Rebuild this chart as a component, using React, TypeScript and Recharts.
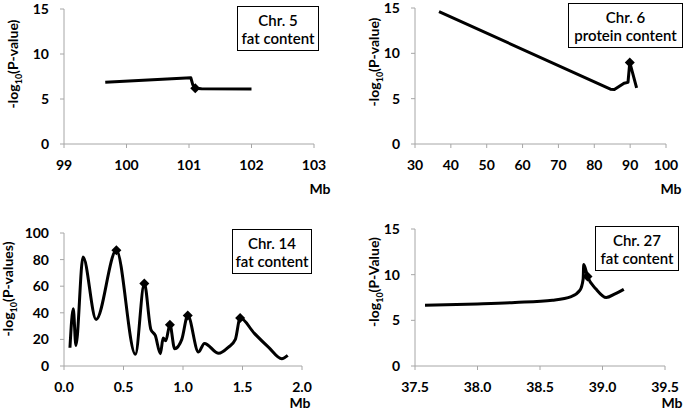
import React from 'react';
import { ComposedChart, Line, Scatter, XAxis, YAxis, ZAxis } from 'recharts';

// values (position in Mb, -log10 P)
const chr5X = [99.66, 101.03, 101.06, 101.1, 101.2, 102.0];
const chr5Y = [6.85, 7.35, 6.6, 6.2, 6.15, 6.1];
const chr5PeakX = [101.1];
const chr5PeakY = [6.2];

const chr6X = [36.7, 84.5, 85.6, 88.3, 89.4, 89.9, 91.8];
const chr6Y = [14.6, 6.05, 6.0, 6.7, 6.8, 9.0, 6.2];
const chr6PeakX = [89.9];
const chr6PeakY = [9.0];

const chr14X = [0.05, 0.078, 0.1, 0.16, 0.27, 0.44, 0.6, 0.675, 0.73, 0.767, 0.81, 0.833, 0.855, 0.89, 0.93, 0.99, 1.04, 1.13, 1.18, 1.3, 1.38, 1.44, 1.48, 1.6, 1.72, 1.83, 1.88];
const chr14Y = [13.75, 43, 15.5, 82, 35, 87, 8.75, 62, 27.5, 23, 9.25, 21, 19, 31, 13, 20, 38, 10.5, 17, 9.5, 14, 20, 36, 24.5, 14, 5.5, 8];
const chr14PeakX = [0.44, 0.675, 0.89, 1.04, 1.48];
const chr14PeakY = [87, 62, 31, 38, 36];

const chr27X = [37.58, 38.0, 38.3, 38.6, 38.75, 38.82, 38.845, 38.85, 38.88, 38.95, 39.03, 39.1, 39.17];
const chr27Y = [6.65, 6.8, 6.95, 7.2, 7.6, 8.3, 9.5, 11.1, 9.8, 8.4, 7.5, 7.9, 8.4];
const chr27PeakX = [38.88];
const chr27PeakY = [9.8];

const zip = (xs: number[], ys: number[]) => xs.map((x, i) => ({ x, y: ys[i] }));

const W = 685;
const H = 412;
const FONT = 'Lato, "Open Sans", sans-serif';
const AXIS = '#a6a6a6';

const panels = [
  {
    key: 'c5', line: zip(chr5X, chr5Y), peaks: zip(chr5PeakX, chr5PeakY), curve: 'linear',
    xDomain: [99, 103], xTicks: [99, 100, 101, 102, 103], fixed: 0,
    yDomain: [0, 15], yTicks: [0, 5, 10, 15],
    plot: { x0: 64, x1: 314, y0: 9, y1: 144 },
    yLabel: '(P-value)', yLab: { x: 18, y: 64 }, mb: { x: 320, y: 194 },
    box: { left: 237, top: 6, width: 82, height: 45 }, title: ['Chr. 5', 'fat content'],
  },
  {
    key: 'c6', line: zip(chr6X, chr6Y), peaks: zip(chr6PeakX, chr6PeakY), curve: 'linear',
    xDomain: [30, 100], xTicks: [30, 40, 50, 60, 70, 80, 90, 100], fixed: 0,
    yDomain: [0, 15], yTicks: [0, 5, 10, 15],
    plot: { x0: 415, x1: 666, y0: 8, y1: 144 },
    yLabel: '(P-value)', yLab: { x: 379, y: 62 }, mb: { x: 671, y: 194 },
    box: { left: 568, top: 3, width: 115, height: 45 }, title: ['Chr. 6', 'protein content'],
  },
  {
    key: 'c14', line: zip(chr14X, chr14Y), peaks: zip(chr14PeakX, chr14PeakY), curve: 'monotone',
    xDomain: [0, 2], xTicks: [0, 0.5, 1, 1.5, 2], fixed: 1,
    yDomain: [0, 100], yTicks: [0, 20, 40, 60, 80, 100],
    plot: { x0: 64, x1: 302, y0: 233, y1: 366 },
    yLabel: '(P-values)', yLab: { x: 13, y: 289 }, mb: { x: 300, y: 408 },
    box: { left: 232, top: 229, width: 80, height: 45 }, title: ['Chr. 14', 'fat content'],
  },
  {
    key: 'c27', line: zip(chr27X, chr27Y), peaks: zip(chr27PeakX, chr27PeakY), curve: 'monotone',
    xDomain: [37.5, 39.5], xTicks: [37.5, 38, 38.5, 39, 39.5], fixed: 1,
    yDomain: [0, 15], yTicks: [0, 5, 10, 15],
    plot: { x0: 415, x1: 665, y0: 229, y1: 366 },
    yLabel: '(P-Value)', yLab: { x: 379, y: 282 }, mb: { x: 672, y: 408 },
    box: { left: 595, top: 226, width: 84, height: 45 }, title: ['Chr. 27', 'fat content'],
  },
];

const Diamond = (props: any) => {
  const { cx, cy } = props;
  const r = 5;
  return <path d={`M${cx},${cy - r}L${cx + r},${cy}L${cx},${cy + r}L${cx - r},${cy}Z`} fill="#000" />;
};

const tickStyle = { fill: '#000', fontSize: 14, fontWeight: 700, fontFamily: FONT };

const Panel = ({ p }: { p: any }) => {
  const yAxisW = 60;
  const xAxisH = 40;
  return (
    <div style={{ position: 'absolute', left: 0, top: 0 }}>
      <ComposedChart
        width={W}
        height={H}
        margin={{ top: p.plot.y0, left: p.plot.x0 - yAxisW, right: W - p.plot.x1, bottom: H - p.plot.y1 - xAxisH }}
      >
        <XAxis
          type="number"
          dataKey="x"
          domain={p.xDomain}
          ticks={p.xTicks}
          interval={0}
          height={xAxisH}
          allowDataOverflow
          stroke={AXIS}
          tickSize={4}
          tickMargin={12}
          tick={tickStyle}
          tickFormatter={(v: number) => v.toFixed(p.fixed)}
          label={() => (
            <text x={p.mb.x} y={p.mb.y} textAnchor="middle" style={tickStyle}>Mb</text>
          )}
        />
        <YAxis
          type="number"
          dataKey="y"
          domain={p.yDomain}
          ticks={p.yTicks}
          interval={0}
          width={yAxisW}
          stroke={AXIS}
          tickSize={4}
          tickMargin={11}
          tick={tickStyle}
          label={() => (
            <text
              x={p.yLab.x}
              y={p.yLab.y}
              transform={`rotate(-90, ${p.yLab.x}, ${p.yLab.y})`}
              textAnchor="middle"
              style={tickStyle}
            >
              -log<tspan fontSize={9} dy={4}>10</tspan><tspan dy={-4}>{p.yLabel}</tspan>
            </text>
          )}
        />
        <ZAxis range={[64, 64]} />
        <Line
          data={p.line}
          dataKey="y"
          type={p.curve}
          stroke="#000"
          strokeWidth={3}
          strokeLinejoin="round"
          dot={false}
          activeDot={false}
          isAnimationActive={false}
        />
        <Scatter data={p.peaks} dataKey="y" shape={Diamond} isAnimationActive={false} />
      </ComposedChart>
    </div>
  );
};

const App: React.FC = () => {
  return (
    <div style={{ position: 'absolute', left: 0, top: 0, width: W, height: H, background: '#fff', fontFamily: FONT }}>
      {panels.map((p) => (
        <Panel key={p.key} p={p} />
      ))}
      {panels.map((p) => (
        <div
          key={p.key + '-box'}
          style={{
            position: 'absolute',
            left: p.box.left,
            top: p.box.top,
            width: p.box.width,
            height: p.box.height,
            boxSizing: 'border-box',
            border: '1.5px solid #000',
            background: '#fff',
            display: 'flex',
            flexDirection: 'column',
            justifyContent: 'center',
            alignItems: 'center',
            fontSize: 15,
            fontWeight: 600,
            lineHeight: '18px',
            color: '#000',
            whiteSpace: 'nowrap',
          }}
        >
          <div>{p.title[0]}</div>
          <div>{p.title[1]}</div>
        </div>
      ))}
    </div>
  );
};

export default App;
